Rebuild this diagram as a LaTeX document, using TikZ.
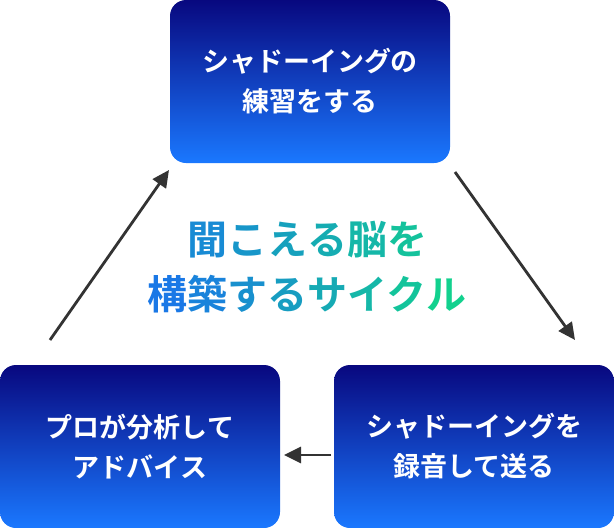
\documentclass[tikz,border=0pt]{standalone}
\usepackage{fontspec}
\newfontfamily\jp{Noto Sans CJK JP}[BoldFont={Noto Sans CJK JP Bold}]
\definecolor{navy}{HTML}{08087F}
\definecolor{lblue}{HTML}{1A78FF}
\definecolor{gA}{HTML}{1A78E6}
\definecolor{gB}{HTML}{12D58A}
\definecolor{arr}{HTML}{333333}
\newcommand{\gc}[2]{\textcolor{gB!#1!gA}{#2}}
\usetikzlibrary{arrows.meta}
\tikzset{
  box/.style={minimum width=280pt, minimum height=163pt, rounded corners=16pt,
    top color=navy, bottom color=lblue, text=white, align=center,
    font=\jp\bfseries\fontsize{27}{40}\selectfont, inner sep=0pt},
  arrw/.style={draw=arr, line width=2.8pt, -{Triangle[length=17pt,width=16pt]}}
}
\begin{document}
\begin{tikzpicture}[x=1pt,y=-1pt]
\useasboundingbox (0,0) rectangle (614,528);
\node[box] (t) at (310,81.5) {シャドーイングの\\練習をする};
\node[box] (r) at (474,446.5) {シャドーイングを\\録音して送る};
\node[box] (l) at (140,446.5) {プロが分析して\\アドバイス};
\coordinate (a1s) at (455,172); \coordinate (a1e) at (575,340);
\coordinate (a2s) at (331,455); \coordinate (a2e) at (284,455);
\coordinate (a3s) at (50,340); \coordinate (a3e) at (169,170);
\draw[arrw] (a1s) -- (a1e);
\draw[arrw] (a2s) -- (a2e);
\draw[arrw] (a3s) -- (a3e);
\node[font=\jp\bfseries\fontsize{40}{44}\selectfont, inner sep=0pt] (c1) at (307,240)
 {\gc{20}{聞}\gc{32}{こ}\gc{44}{え}\gc{56}{る}\gc{68}{脳}\gc{80}{を}};
\node[font=\jp\bfseries\fontsize{40}{44}\selectfont, inner sep=0pt] (c2) at (307,294)
 {\gc{0}{構}\gc{12}{築}\gc{26}{す}\gc{40}{る}\gc{54}{サ}\gc{68}{イ}\gc{82}{ク}\gc{96}{ル}};
\end{tikzpicture}
\end{document}
